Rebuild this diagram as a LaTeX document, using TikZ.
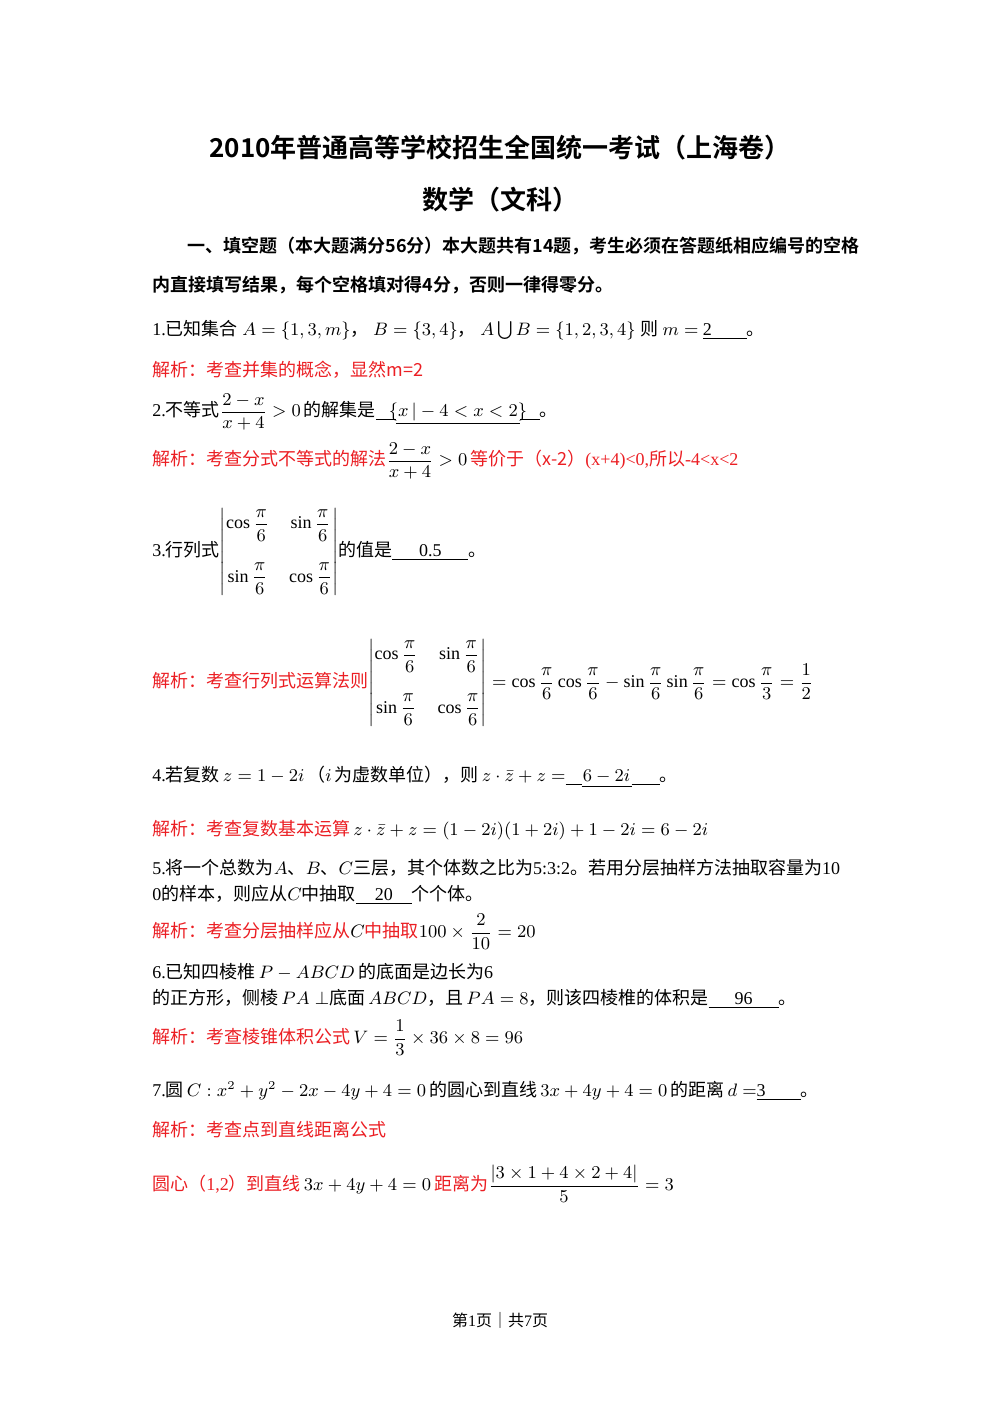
\documentclass[tikz,border=0pt]{standalone}
\usepackage{fontspec}
\usepackage{amsmath}
\setmainfont{Liberation Serif}
\newfontfamily\cj{Noto Sans CJK SC}
\newfontfamily\cjb{Noto Sans CJK SC Bold}
\definecolor{rd}{RGB}{235,30,35}
\newcommand{\ul}[2]{\underline{\makebox[#1][c]{#2}}}
\newcommand{\detm}{\left|\begin{matrix}\cos\dfrac{\pi}{6} & \sin\dfrac{\pi}{6}\\[14pt] \sin\dfrac{\pi}{6} & \cos\dfrac{\pi}{6}\end{matrix}\right|}
\begin{document}
\begin{tikzpicture}[x=0.5pt,y=-0.5pt,
  t/.style={anchor=west,inner sep=0pt,font=\fontsize{9}{10}\selectfont},
  r/.style={t,text=rd}]
\useasboundingbox (0,0) rectangle (1000,1414);
\node[inner sep=0pt,font=\fontsize{13}{15}\selectfont\cjb] (t1) at (500,148) {2010年普通高等学校招生全国统一考试（上海卷）};
\node[inner sep=0pt,font=\fontsize{13}{15}\selectfont\cjb] (t2) at (500,200) {数学（文科）};
\node[t,font=\fontsize{9}{10}\selectfont\cjb] (h1) at (187,246) {一、填空题（本大题满分56分）本大题共有14题，考生必须在答题纸相应编号的空格};
\node[t,font=\fontsize{9}{10}\selectfont\cjb] (h2) at (152,285) {内直接填写结果，每个空格填对得4分，否则一律得零分。};
\node[t] (q1) at (152,330) {1.{\cj 已知集合} $A=\{1,3,m\}${\cj ，} $B=\{3,4\}${\cj ，} $A\bigcup B=\{1,2,3,4\}$ {\cj 则} $m=$\ \ul{22pt}{2\hfill}{\cj 。}};
\node[r] (a1) at (152,370) {\cj 解析：考查并集的概念，显然m=2};
\node[t] (q2) at (152,412) {2.{\cj 不等式}$\dfrac{2-x}{x+4}>0$\,{\cj 的解集是}\ul{10pt}{}\ul{62pt}{$\{x\,|-4<x<2\}$}\ul{10pt}{}{\cj 。}};
\node[r] (a2) at (152,461) {{\cj 解析：考查分式不等式的解法}\color{black}$\dfrac{2-x}{x+4}>0$\,\color{rd}{\cj 等价于（x-2）}(x+4)<0,{\cj 所以}-4<x<2};
\node[t] (q3) at (152,552) {3.{\cj 行列式}$\detm${\cj 的值是}\ul{38pt}{0.5}{\cj 。}};
\node[r] (a3) at (152,683) {{\cj 解析：考查行列式运算法则}\color{black}$\detm=\cos\dfrac{\pi}{6}\cos\dfrac{\pi}{6}-\sin\dfrac{\pi}{6}\sin\dfrac{\pi}{6}=\cos\dfrac{\pi}{3}=\dfrac{1}{2}$};
\node[t] (q4) at (152,777) {4.{\cj 若复数}$\,z=1-2i$\,{\cj （}$i$\,{\cj 为虚数单位），则}$\,z\cdot\bar z+z=$\ul{8pt}{}\ul{25pt}{$6-2i$}\ul{14pt}{}{\cj 。}};
\node[r] (a4) at (152,830) {{\cj 解析：考查复数基本运算}\color{black}$\,z\cdot\bar z+z=(1-2i)(1+2i)+1-2i=6-2i$};
\node[t] (q5) at (152,868) {5.{\cj 将一个总数为}$A${\cj 、}$B${\cj 、}$C${\cj 三层，其个体数之比为}5:3:2{\cj 。若用分层抽样方法抽取容量为}10};
\node[t] (q5b) at (152,895) {0{\cj 的样本，则应从}$C${\cj 中抽取}\ul{28pt}{20}{\cj 个个体。}};
\node[r] (a5) at (152,932) {{\cj 解析：考查分层抽样应从}\color{black}$C$\color{rd}{\cj 中抽取}\color{black}$100\times\dfrac{2}{10}=20$};
\node[t] (q6) at (152,972) {6.{\cj 已知四棱椎}$\,P-ABCD\,${\cj 的底面是边长为}6};
\node[t] (q6b) at (152,999) {{\cj 的正方形，侧棱}$\,PA\perp${\cj 底面}$\,ABCD${\cj ，且}$\,PA=8${\cj ，则该四棱椎的体积是}\ul{35pt}{96}{\cj 。}};
\node[r] (a6) at (152,1038) {{\cj 解析：考查棱锥体积公式}\color{black}$\,V=\dfrac{1}{3}\times36\times8=96$};
\node[t] (q7) at (152,1091) {7.{\cj 圆}$\,C:x^2+y^2-2x-4y+4=0\,${\cj 的圆心到直线}$\,3x+4y+4=0\,${\cj 的距离}$\,d=$\ul{22pt}{3\hfill}{\cj 。}};
\node[r] (a7) at (152,1130) {\cj 解析：考查点到直线距离公式};
\node[r] (a7b) at (152,1184) {{\cj 圆心（}1,2{\cj ）到直线}\color{black}$\,3x+4y+4=0\,$\color{rd}{\cj 距离为}\color{black}$\dfrac{|3\times1+4\times2+4|}{5}=3$};
\node[inner sep=0pt,font=\fontsize{8}{10}\selectfont] (ft) at (500,1320) {{\cj 第}1{\cj 页｜共}7{\cj 页}};
\end{tikzpicture}
\end{document}
